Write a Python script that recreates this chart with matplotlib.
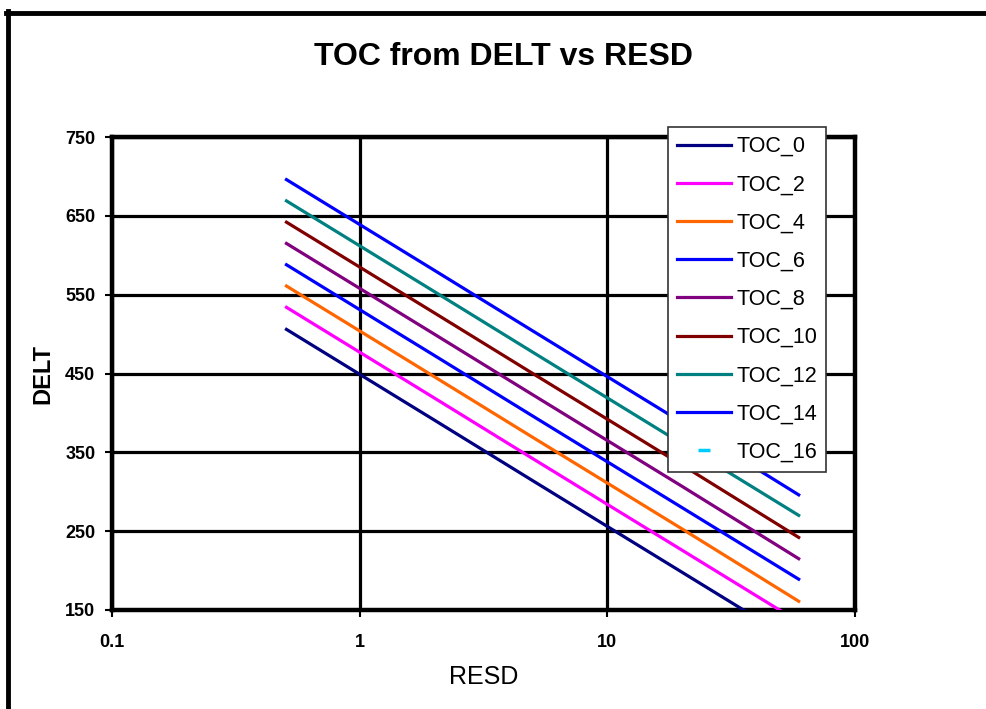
import matplotlib.pyplot as plt
from matplotlib.lines import Line2D
from matplotlib.ticker import FixedLocator, NullLocator

plt.rcParams['font.family'] = ['Liberation Sans', 'DejaVu Sans']

# RESD sample points and DELT readings for each TOC curve
resd = [0.5, 1, 2, 5, 10, 20, 60]
toc_0 = [507, 449, 391, 314, 256, 198, 106]
toc_2 = [535, 477, 419, 342, 284, 226, 134]
toc_4 = [562, 504, 446, 369, 311, 253, 160]
toc_6 = [589, 531, 473, 396, 338, 280, 188]
toc_8 = [616, 558, 500, 423, 365, 307, 214]
toc_10 = [643, 585, 527, 450, 392, 334, 241]
toc_12 = [670, 612, 554, 477, 419, 361, 269]
toc_14 = [697, 639, 581, 504, 446, 388, 295]
toc_16 = []  # no points in range

labels = ["TOC_0", "TOC_2", "TOC_4", "TOC_6", "TOC_8",
          "TOC_10", "TOC_12", "TOC_14", "TOC_16"]
series = [toc_0, toc_2, toc_4, toc_6, toc_8, toc_10, toc_12, toc_14, toc_16]
colors = ["#000080", "#FF00FF", "#FF6600", "#0000FF", "#800080",
          "#800000", "#008080", "#0000FF", "#00CCFF"]

x_ticks = [0.1, 1, 10, 100]
x_ticklabels = ["0.1", "1", "10", "100"]
y_ticks = [150, 250, 350, 450, 550, 650, 750]

W, H = 986, 709
fig = plt.figure(figsize=(W / 100, H / 100), dpi=100)
ax = fig.add_axes([112 / W, 1 - 610 / H, (855 - 112) / W, (610 - 137) / H])

handles = []
for lab, vals, col in zip(labels, series, colors):
    if vals:
        ax.plot(resd, vals, color=col, lw=2.3, solid_capstyle="butt", zorder=3)
        handles.append(Line2D([], [], color=col, lw=2.3, label=lab))
    else:
        ax.plot([], [], color=col, lw=0, marker="_", ms=9, mew=2.5)
        handles.append(Line2D([], [], color=col, lw=0, marker="_", ms=9,
                              mew=2.5, label=lab))

ax.set_xscale("log")
ax.set_xlim(0.1, 100)
ax.set_ylim(150, 750)
ax.xaxis.set_major_locator(FixedLocator(x_ticks))
ax.xaxis.set_minor_locator(NullLocator())
ax.set_xticklabels(x_ticklabels)
ax.set_yticks(y_ticks)

ax.grid(True, color="black", lw=2.3, zorder=1)
for s in ax.spines.values():
    s.set_linewidth(3.2)
    s.set_color("black")
ax.tick_params(direction="out", length=5, width=1.5, pad=7)
for t in ax.get_xticklabels() + ax.get_yticklabels():
    t.set_fontweight("bold")
    t.set_fontsize(13)
ax.tick_params(axis="x", pad=12)

ax.set_ylabel("DELT", fontsize=17, fontweight="bold", labelpad=8)
ax.set_xlabel("RESD", fontsize=18, labelpad=10)

fig.text(503 / W, 1 - 57 / H, "TOC from DELT vs RESD", ha="center", va="center",
         fontsize=23, fontweight="bold")

leg = fig.legend(handles=handles, loc="upper left",
                 bbox_to_anchor=(668 / W, 1 - 127 / H), borderaxespad=0,
                 fontsize=15.5, frameon=True, fancybox=False, framealpha=1,
                 edgecolor="#333333", handlelength=2.5, handletextpad=0.25,
                 labelspacing=0.8, borderpad=0.42)
leg.get_frame().set_linewidth(1.2)
leg.set_zorder(5)

# outer chart-area frame (cropped at right and bottom)
fig.add_artist(Line2D([6 / W, 1], [1 - 13 / H, 1 - 13 / H], color="black", lw=3.5))
fig.add_artist(Line2D([8 / W, 8 / W], [0, 1 - 11 / H], color="black", lw=3.5))

fig.savefig("out.png", dpi=100)
